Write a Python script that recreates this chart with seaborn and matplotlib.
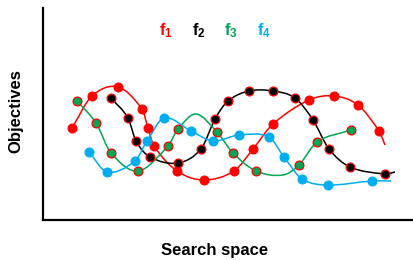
import numpy as np
import pandas as pd
import seaborn as sns
import matplotlib
matplotlib.use('Agg')
import matplotlib.pyplot as plt
from matplotlib.path import Path
from matplotlib.patches import PathPatch

# sampled points of each objective along the search space
f1_x = [29, 49, 75, 99, 105, 111, 134, 161, 191, 210, 230, 266, 291, 315, 336]
f1_y = [92, 124, 133, 111, 92, 74, 49, 40, 49, 71, 96, 120, 124, 115, 89]
f2_x = [68, 85, 93, 107, 135, 158, 172, 185, 206, 230, 252, 270, 286, 307, 342]
f2_y = [122, 102, 79, 63, 57, 71, 101, 119, 129, 129, 122, 100, 71, 53, 46]
f3_x = [34, 53, 68, 95, 125, 135, 174, 190, 213, 256, 274, 308]
f3_y = [119, 97, 67, 49, 74, 91, 88, 67, 49, 55, 78, 90]
f4_x = [46, 64, 92, 104, 121, 148, 170, 196, 226, 241, 259, 285, 329]
f4_y = [68, 48, 59, 79, 102, 89, 79, 85, 83, 63, 41, 35, 39]

# extra nodes of the underlying curves (no sample marker)
f1_curve = [(342, 75)]
f2_curve = [(352, 48)]
f3_curve = [(153, 106), (240, 45)]
f4_curve = [(348, 39)]

labels = ['f1', 'f2', 'f3', 'f4']
colors = ['#ff0000', '#000000', '#00a651', '#00aeef']

sns.set_style('white')
plt.rcParams['font.family'] = ['Liberation Sans', 'DejaVu Sans']
plt.rcParams['mathtext.fontset'] = 'custom'
plt.rcParams['mathtext.bf'] = 'Liberation Sans:bold'
plt.rcParams['mathtext.rm'] = 'Liberation Sans:bold'


def smooth_path(xs, ys):
    # cubic hermite curve through the nodes, drawn as bezier segments
    x = np.asarray(xs, float)
    y = np.asarray(ys, float)
    n = len(x)
    m = np.empty(n)
    m[0] = (y[1] - y[0]) / (x[1] - x[0])
    m[-1] = (y[-1] - y[-2]) / (x[-1] - x[-2])
    m[1:-1] = (y[2:] - y[:-2]) / (x[2:] - x[:-2])
    verts = [(x[0], y[0])]
    codes = [Path.MOVETO]
    for i in range(n - 1):
        d = (x[i + 1] - x[i]) / 3
        verts += [(x[i] + d, y[i] + m[i] * d), (x[i + 1] - d, y[i + 1] - m[i + 1] * d), (x[i + 1], y[i + 1])]
        codes += [Path.CURVE4] * 3
    return Path(verts, codes)


fig = plt.figure(figsize=(4.13, 2.6), dpi=100)
ax = fig.add_axes([43 / 413, 40 / 260, 370 / 413, 212 / 260])

series = [(f1_x, f1_y, f1_curve), (f2_x, f2_y, f2_curve), (f3_x, f3_y, f3_curve), (f4_x, f4_y, f4_curve)]
frames = []
for (xs, ys, extra), lab, col in zip(series, labels, colors):
    nodes = sorted(list(zip(xs, ys)) + extra)
    nx, ny = zip(*nodes)
    ax.add_patch(PathPatch(smooth_path(nx, ny), facecolor='none', edgecolor=col, lw=1.1, zorder=2))
    frames.append(pd.DataFrame({'x': xs, 'y': ys, 'f': lab}))
df = pd.concat(frames, ignore_index=True)

edge = {'f1': '#ff0000', 'f2': '#ff0000', 'f3': '#ff0000', 'f4': '#00aeef'}
for lab, col in zip(labels, colors):
    sub = df[df['f'] == lab]
    sns.scatterplot(data=sub, x='x', y='y', ax=ax, color=col, s=40,
                    edgecolor=edge[lab], linewidth=0.9, zorder=3, legend=False)

# legend labels as coloured text
for txt, col, xp in zip([r'$\mathbf{f_1}$', r'$\mathbf{f_2}$', r'$\mathbf{f_3}$', r'$\mathbf{f_4}$'],
                        colors, [166, 199, 231, 264]):
    fig.text(xp / 413, 1 - 31 / 260, txt, color=col, fontsize=12, ha='center', va='center')

ax.set_xlim(0, 370)
ax.set_ylim(0, 212)
ax.set_xticks([])
ax.set_yticks([])
for s in ['top', 'right']:
    ax.spines[s].set_visible(False)
for s in ['left', 'bottom']:
    ax.spines[s].set_color('black')
    ax.spines[s].set_linewidth(1.6)

ax.set_xlabel('Search space', fontsize=12, fontweight='bold', color='black', va='center', ha='center')
ax.xaxis.set_label_coords((215 - 43) / 370, (220 - 251) / 212)
ax.set_ylabel('Objectives', fontsize=12, fontweight='bold', color='black', va='center', ha='center')
ax.yaxis.set_label_coords((16 - 43) / 370, (220 - 111) / 212)

fig.savefig('out.png', dpi=100)
